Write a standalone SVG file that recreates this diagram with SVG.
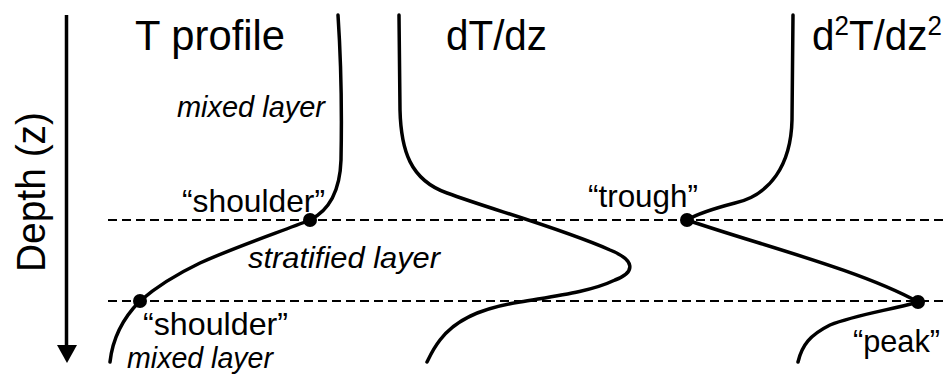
<svg xmlns="http://www.w3.org/2000/svg" width="944" height="374" viewBox="0 0 944 374">
<style>
.t{font-family:"Liberation Sans",Arial,sans-serif;fill:#000}
.big{font-size:42px}
.lab{font-size:32px}
.it{font-size:30px;font-style:italic}
.curve{fill:none;stroke:#000;stroke-width:3.5;stroke-linecap:round;stroke-linejoin:round}
.dash{stroke:#000;stroke-width:2.2;stroke-dasharray:9 5}
</style>
<rect width="944" height="374" fill="#fff"/>
<g id="axis">
<line x1="66.5" y1="15" x2="66.5" y2="348" stroke="#000" stroke-width="3.5"/>
<polygon points="57,345 77,345 67,363" fill="#000"/>
<text class="t" transform="translate(45,272) rotate(-90)" font-size="41" textLength="160" lengthAdjust="spacingAndGlyphs">Depth (z)</text>
</g>
<g id="guides">
<line class="dash" x1="108" y1="220" x2="944" y2="220"/>
<line class="dash" x1="108" y1="301" x2="944" y2="301"/>
</g>
<g id="titles">
<text class="t big" x="135" y="50" textLength="150" lengthAdjust="spacingAndGlyphs">T profile</text>
<text class="t big" x="446" y="50" textLength="101" lengthAdjust="spacingAndGlyphs">dT/dz</text>
<text class="t big" x="812" y="50" textLength="130" lengthAdjust="spacingAndGlyphs">d<tspan font-size="27" dy="-15">2</tspan><tspan dy="15">T/dz</tspan><tspan font-size="27" dy="-15">2</tspan></text>
</g>
<g id="connectors">
<path id="t-profile" class="curve" d="M338,15 C341,60 342,110 341,160 C340,190 330,210 310,220 C280,232 240,245 200,263 C175,275 155,288 140,301 C125,316 113,335 110,362"/>
<path id="dtdz" class="curve" d="M399,15 L400,110 C401,150 410,180 447,193 C490,209 560,228 610,250 C635,260 636,272 615,280 C590,292 555,296 520,302 C480,308 455,320 440,340 C433,349 430,356 427,362"/>
<path id="d2tdz2" class="curve" d="M793,15 L792,120 C791,165 770,195 735,203 C712,209 697,214 687,220 C760,245 860,270 918,302 C890,310 855,315 830,325 C810,335 802,345 798,362"/>
</g>
<g id="points">
<circle cx="310" cy="220" r="7"/>
<circle cx="140" cy="301" r="7"/>
<circle cx="687" cy="220" r="7"/>
<circle cx="918" cy="302" r="7"/>
</g>
<g id="labels">
<text class="t it" x="177" y="117" textLength="148" lengthAdjust="spacingAndGlyphs">mixed layer</text>
<text class="t lab" x="182" y="212" textLength="143" lengthAdjust="spacingAndGlyphs">“shoulder”</text>
<text class="t it" x="248" y="268" textLength="192" lengthAdjust="spacingAndGlyphs">stratified layer</text>
<text class="t lab" x="143" y="335" textLength="145" lengthAdjust="spacingAndGlyphs">“shoulder”</text>
<text class="t it" x="127" y="368" textLength="146" lengthAdjust="spacingAndGlyphs">mixed layer</text>
<text class="t lab" x="588" y="207" textLength="110" lengthAdjust="spacingAndGlyphs">“trough”</text>
<text class="t lab" x="853" y="352" textLength="87" lengthAdjust="spacingAndGlyphs">“peak”</text>
</g>
</svg>
